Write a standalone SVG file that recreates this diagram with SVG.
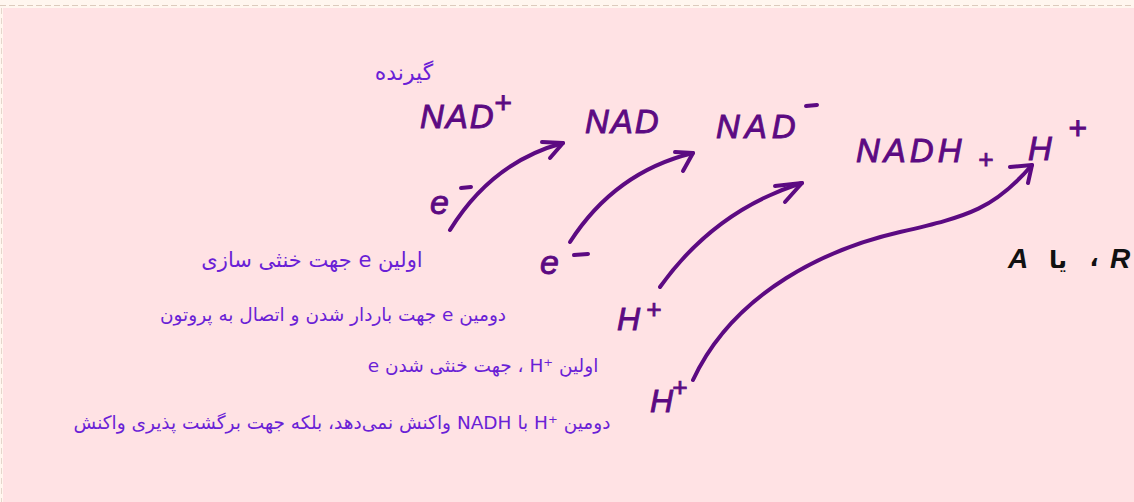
<svg xmlns="http://www.w3.org/2000/svg" width="1134" height="502" viewBox="0 0 1134 502">
  <style>
    .chem { font-family: "Liberation Sans", sans-serif; font-style: italic; fill: #5c0a82; stroke: #5c0a82; stroke-width: 0.9; }
    .note { font-family: "DejaVu Sans", "Noto Sans", sans-serif; fill: #6a1fd6; direction: rtl; unicode-bidi: embed; }
    .arrow { fill: none; stroke: #5c0a82; stroke-width: 4; stroke-linecap: round; stroke-linejoin: round; }
    .dash { stroke: #5c0a82; stroke-width: 4; stroke-linecap: round; }
    .ink { font-family: "Liberation Sans", "DejaVu Sans", sans-serif; fill: #111111; font-weight: bold; }
  </style>

  <!-- page -->
  <rect x="0" y="0" width="1134" height="502" fill="#fff6ef"/>
  <rect x="3" y="8" width="1131" height="494" fill="#ffe2e4"/>
  <line x1="0" y1="5.5" x2="1134" y2="5.5" stroke="#dccbbd" stroke-width="1" stroke-dasharray="6 3"/>
  <line x1="1.5" y1="8" x2="1.5" y2="502" stroke="#e6d6cc" stroke-width="1" stroke-dasharray="6 4"/>

  <!-- species -->
  <g id="nad-plus">
    <text class="chem" x="420" y="128" font-size="33" letter-spacing="2">NAD</text>
    <text class="chem" x="494" y="113" font-size="30">+</text>
  </g>
  <g id="nad">
    <text class="chem" x="585" y="133" font-size="33" letter-spacing="2">NAD</text>
  </g>
  <g id="nad-minus">
    <text class="chem" x="716" y="138" font-size="33" letter-spacing="5">NAD</text>
    <line class="dash" x1="806" y1="106" x2="817" y2="105"/>
  </g>
  <g id="nadh-h">
    <text class="chem" x="856" y="162" font-size="33" letter-spacing="4">NADH</text>
    <text class="chem" x="978" y="168" font-size="26">+</text>
    <text class="chem" x="1028" y="160" font-size="33">H</text>
    <text class="chem" x="1068" y="139" font-size="32">+</text>
  </g>
  <g id="e1">
    <text class="chem" x="430" y="214" font-size="34">e</text>
    <line class="dash" x1="461" y1="188" x2="471" y2="187"/>
  </g>
  <g id="e2">
    <text class="chem" x="540" y="274" font-size="34">e</text>
    <line class="dash" x1="574" y1="255" x2="588" y2="254"/>
  </g>
  <g id="h1">
    <text class="chem" x="617" y="330" font-size="32">H</text>
    <text class="chem" x="646" y="318" font-size="26">+</text>
  </g>
  <g id="h2">
    <text class="chem" x="650" y="412" font-size="32">H</text>
    <text class="chem" x="672" y="396" font-size="26">+</text>
  </g>

  <!-- connectors -->
  <g id="connectors">
    <path class="arrow" d="M450,230 Q492,162 563,143"/>
    <path class="arrow" d="M542,142 L563,143 L550,158"/>
    <path class="arrow" d="M570,242 Q615,172 693,153"/>
    <path class="arrow" d="M675,152 L693,153 L683,171"/>
    <path class="arrow" d="M660,287 Q715,210 802,183"/>
    <path class="arrow" d="M775,186 L802,183 L785,202"/>
    <path class="arrow" d="M693,380 C735,290 830,248 900,232 S995,208 1032,165"/>
    <path class="arrow" d="M1010,167 L1032,165 L1028,183"/>
  </g>

  <!-- notes -->
  <g id="note-acceptor">
    <text class="note" x="404" y="80" font-size="22" text-anchor="middle">گیرنده</text>
  </g>
  <g id="note-1">
    <text class="note" x="312" y="267" font-size="21" text-anchor="middle">اولین e جهت خنثی سازی</text>
  </g>
  <g id="note-2">
    <text class="note" x="333" y="321" font-size="18.5" text-anchor="middle">دومین e جهت باردار شدن و اتصال به پروتون</text>
  </g>
  <g id="note-3">
    <text class="note" x="483" y="372" font-size="18.5" text-anchor="middle">اولین &#x2066;H&#x207A;&#x2069; ، جهت خنثی شدن e</text>
  </g>
  <g id="note-4">
    <text class="note" x="342" y="429" font-size="18.5" text-anchor="middle">دومین &#x2066;H&#x207A;&#x2069; با NADH واکنش نمی‌دهد، بلکه جهت برگشت پذیری واکنش</text>
  </g>
  <g id="note-ar">
    <text class="ink" x="1008" y="268" font-size="28" font-style="italic">A</text>
    <text class="ink" x="1058" y="268" font-size="24" text-anchor="middle" font-family="DejaVu Sans, sans-serif" font-weight="normal">یا</text>
    <text class="ink" x="1094" y="266" font-size="24" text-anchor="middle" font-family="DejaVu Sans, sans-serif">،</text>
    <text class="ink" x="1110" y="268" font-size="28" font-style="italic">R</text>
  </g>
</svg>
